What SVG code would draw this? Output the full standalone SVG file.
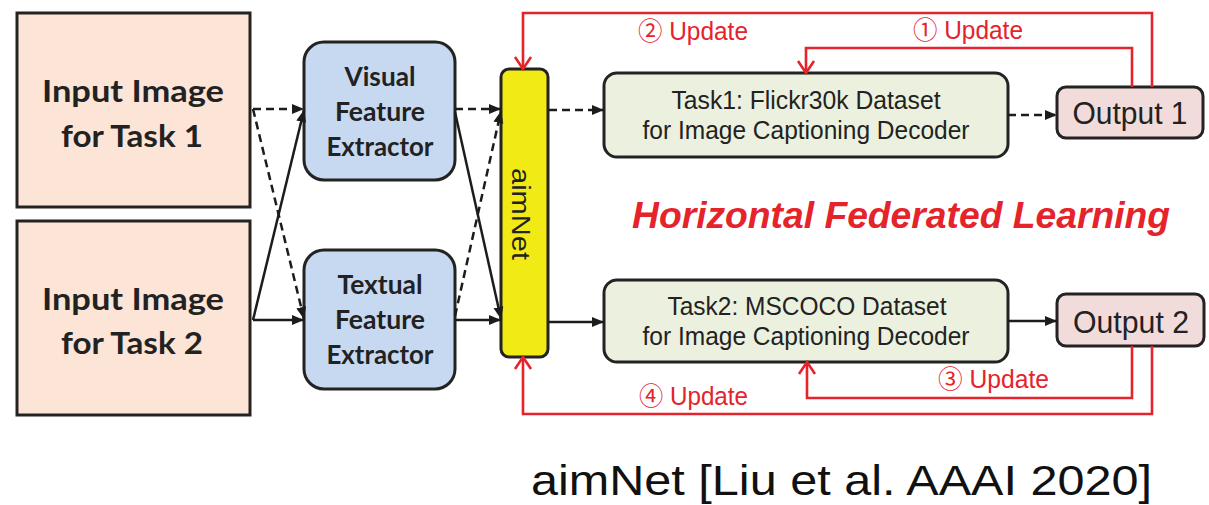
<svg xmlns="http://www.w3.org/2000/svg" width="1209" height="505" viewBox="0 0 1209 505">
<style>
.box{stroke:#232323;stroke-width:3}
.inp{fill:#fce4d6}
.fe{fill:#c6d9f0}
.task{fill:#ebf1de}
.out{fill:#f2dcdb}
.bold{font-family:Lato,"Open Sans","Liberation Sans",sans-serif;font-weight:bold;fill:#222;text-anchor:middle}
.reg{font-family:"Liberation Sans",Arial,sans-serif;fill:#222;text-anchor:middle}
.red{font-family:"Liberation Sans","Noto Sans CJK JP",sans-serif;fill:#e5232b}
.ln{stroke:#1c1c1c;stroke-width:2.5;fill:none}
.dash{stroke-dasharray:8 5}
.rl{stroke:#e5232b;stroke-width:2.6;fill:none}
</style>
<defs>
<marker id="ah" markerUnits="userSpaceOnUse" markerWidth="14" markerHeight="12" refX="12" refY="6" orient="auto">
<path d="M0,1 L12,6 L0,11 z" fill="#1c1c1c"/>
</marker>
<marker id="rh" markerUnits="userSpaceOnUse" markerWidth="18" markerHeight="20" refX="14" refY="10" orient="auto">
<path d="M2,2 L14,10 L2,18" fill="none" stroke="#e5232b" stroke-width="2.6"/>
</marker>
</defs>
<rect width="1209" height="505" fill="#ffffff"/>

<g id="input1">
<rect class="box inp" x="17" y="13" width="233" height="194"/>
<text class="bold" x="133" y="102" font-size="30" textLength="182" lengthAdjust="spacingAndGlyphs">Input Image</text>
<text class="bold" x="132" y="147" font-size="30" textLength="142" lengthAdjust="spacingAndGlyphs">for Task 1</text>
</g>
<g id="input2">
<rect class="box inp" x="17" y="221" width="233" height="194"/>
<text class="bold" x="133" y="310" font-size="30" textLength="182" lengthAdjust="spacingAndGlyphs">Input Image</text>
<text class="bold" x="132" y="354" font-size="30" textLength="142" lengthAdjust="spacingAndGlyphs">for Task 2</text>
</g>
<g id="visual">
<rect class="box fe" x="304" y="42" width="151" height="138" rx="20"/>
<text class="bold" x="380" y="86" font-size="26" textLength="71" lengthAdjust="spacingAndGlyphs">Visual</text>
<text class="bold" x="380" y="121" font-size="26" textLength="90" lengthAdjust="spacingAndGlyphs">Feature</text>
<text class="bold" x="380" y="156" font-size="26" textLength="107" lengthAdjust="spacingAndGlyphs">Extractor</text>
</g>
<g id="textual">
<rect class="box fe" x="304" y="250" width="151" height="139" rx="20"/>
<text class="bold" x="380" y="294" font-size="26" textLength="85" lengthAdjust="spacingAndGlyphs">Textual</text>
<text class="bold" x="380" y="329" font-size="26" textLength="90" lengthAdjust="spacingAndGlyphs">Feature</text>
<text class="bold" x="380" y="364" font-size="26" textLength="107" lengthAdjust="spacingAndGlyphs">Extractor</text>
</g>
<g id="aimnet">
<rect class="box" x="501" y="69" width="47" height="288" rx="8" fill="#f2ea14"/>
<text class="reg" transform="translate(512,214) rotate(90)" x="0" y="0" font-size="26" textLength="92" lengthAdjust="spacingAndGlyphs">aimNet</text>
</g>
<g id="task1">
<rect class="box task" x="604" y="73" width="404" height="84" rx="13"/>
<text class="reg" x="806" y="109" font-size="25.5" textLength="269" lengthAdjust="spacingAndGlyphs">Task1: Flickr30k Dataset</text>
<text class="reg" x="806" y="139" font-size="25.5" textLength="327" lengthAdjust="spacingAndGlyphs">for Image Captioning Decoder</text>
</g>
<g id="task2">
<rect class="box task" x="604" y="280" width="404" height="82" rx="13"/>
<text class="reg" x="807" y="315" font-size="25.5" textLength="279" lengthAdjust="spacingAndGlyphs">Task2: MSCOCO Dataset</text>
<text class="reg" x="806" y="345" font-size="25.5" textLength="327" lengthAdjust="spacingAndGlyphs">for Image Captioning Decoder</text>
</g>
<g id="output1">
<rect class="box out" x="1057" y="87" width="146" height="51" rx="9"/>
<text class="reg" x="1130" y="124" font-size="32" textLength="115" lengthAdjust="spacingAndGlyphs">Output 1</text>
</g>
<g id="output2">
<rect class="box out" x="1057" y="294" width="147" height="52" rx="9"/>
<text class="reg" x="1131" y="333" font-size="32" textLength="116" lengthAdjust="spacingAndGlyphs">Output 2</text>
</g>

<g id="connectors">
<line class="ln dash" x1="253" y1="109" x2="304" y2="109" marker-end="url(#ah)"/>
<line class="ln dash" x1="253" y1="109" x2="304" y2="319" marker-end="url(#ah)"/>
<line class="ln" x1="253" y1="320" x2="304" y2="320" marker-end="url(#ah)"/>
<line class="ln" x1="253" y1="320" x2="304" y2="110" marker-end="url(#ah)"/>
<line class="ln dash" x1="455" y1="109" x2="501" y2="109" marker-end="url(#ah)"/>
<line class="ln" x1="455" y1="112" x2="501" y2="319" marker-end="url(#ah)"/>
<line class="ln dash" x1="455" y1="316" x2="501" y2="111" marker-end="url(#ah)"/>
<line class="ln" x1="455" y1="320" x2="501" y2="320" marker-end="url(#ah)"/>
<line class="ln dash" x1="549" y1="110" x2="604" y2="110" marker-end="url(#ah)"/>
<line class="ln dash" x1="1008" y1="115" x2="1057" y2="115" marker-end="url(#ah)"/>
<line class="ln" x1="549" y1="322" x2="604" y2="322" marker-end="url(#ah)"/>
<line class="ln" x1="1008" y1="321" x2="1057" y2="321" marker-end="url(#ah)"/>
<path class="rl" d="M1152,87 V13 H523 V69" marker-end="url(#rh)"/>
<path class="rl" d="M1132,87 V48 H806 V73" marker-end="url(#rh)"/>
<path class="rl" d="M1132,346 V398 H807 V362" marker-end="url(#rh)"/>
<path class="rl" d="M1152,346 V414 H523 V357" marker-end="url(#rh)"/>
<text class="red" x="638" y="40" font-size="25" textLength="110" lengthAdjust="spacingAndGlyphs">② Update</text>
<text class="red" x="913" y="39" font-size="25" textLength="110" lengthAdjust="spacingAndGlyphs">① Update</text>
<text class="red" x="938" y="388" font-size="25" textLength="111" lengthAdjust="spacingAndGlyphs">③ Update</text>
<text class="red" x="639" y="405" font-size="25" textLength="109" lengthAdjust="spacingAndGlyphs">④ Update</text>
</g>

<text x="632" y="228" font-family="Liberation Sans,Arial,sans-serif" font-weight="bold" font-style="italic" font-size="37" fill="#e5232b" textLength="538" lengthAdjust="spacingAndGlyphs">Horizontal Federated Learning</text>
<text x="531" y="495" font-family="Liberation Sans,Arial,sans-serif" font-size="42" fill="#111" textLength="621" lengthAdjust="spacingAndGlyphs">aimNet [Liu et al. AAAI 2020]</text>
</svg>
